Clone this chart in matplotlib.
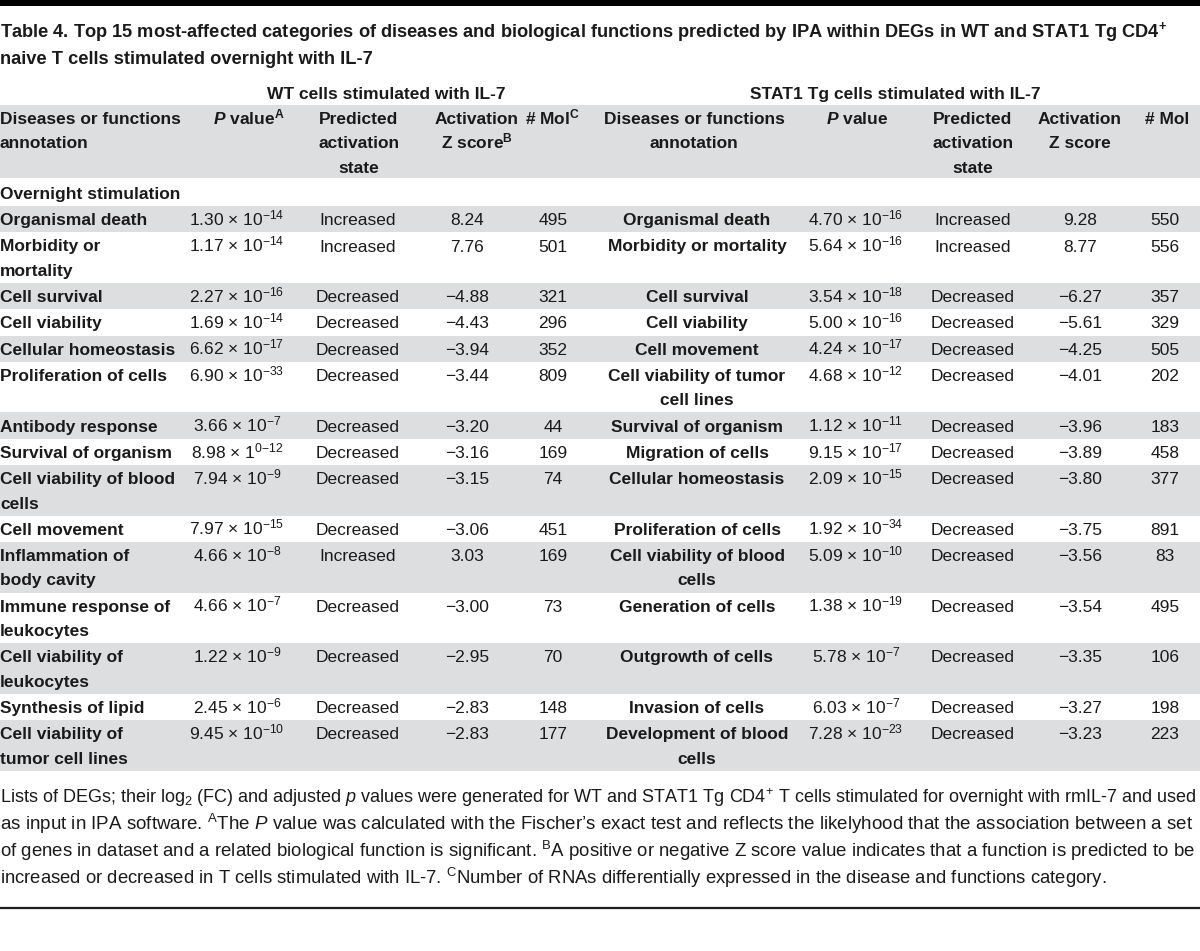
import matplotlib
matplotlib.use('Agg')
import matplotlib.pyplot as plt
from matplotlib.patches import Rectangle

plt.rcParams['font.family'] = 'Liberation Sans'
plt.rcParams['mathtext.fontset'] = 'custom'
plt.rcParams['mathtext.rm'] = 'Liberation Sans'
plt.rcParams['mathtext.it'] = 'Liberation Sans:italic'
plt.rcParams['mathtext.bf'] = 'Liberation Sans:bold'
plt.rcParams['mathtext.bfit'] = 'Liberation Sans:italic:bold'

# WT cells stimulated with IL-7
wt_names = ['Organismal death', 'Morbidity or\nmortality', 'Cell survival',
            'Cell viability', 'Cellular homeostasis', 'Proliferation of cells',
            'Antibody response', 'Survival of organism',
            'Cell viability of blood\ncells', 'Cell movement',
            'Inflammation of\nbody cavity', 'Immune response of\nleukocytes',
            'Cell viability of\nleukocytes', 'Synthesis of lipid',
            'Cell viability of\ntumor cell lines']
wt_p = ['1.30', '1.17', '2.27', '1.69', '6.62', '6.90', '3.66', '8.98',
        '7.94', '7.97', '4.66', '4.66', '1.22', '2.45', '9.45']
wt_base = ['10', '10', '10', '10', '10', '10', '10', '1',
           '10', '10', '10', '10', '10', '10', '10']
wt_exp = ['-14', '-14', '-16', '-14', '-17', '-33', '-7', '0{-}12',
          '-9', '-15', '-8', '-7', '-9', '-6', '-10']
wt_state = ['Increased', 'Increased', 'Decreased', 'Decreased', 'Decreased',
            'Decreased', 'Decreased', 'Decreased', 'Decreased', 'Decreased',
            'Increased', 'Decreased', 'Decreased', 'Decreased', 'Decreased']
wt_z = [8.24, 7.76, -4.88, -4.43, -3.94, -3.44, -3.20, -3.16, -3.15, -3.06,
        3.03, -3.00, -2.95, -2.83, -2.83]
wt_mol = [495, 501, 321, 296, 352, 809, 44, 169, 74, 451, 169, 73, 70, 148, 177]

# STAT1 Tg cells stimulated with IL-7
tg_names = ['Organismal death', 'Morbidity or mortality', 'Cell survival',
            'Cell viability', 'Cell movement', 'Cell viability of tumor\ncell lines',
            'Survival of organism', 'Migration of cells', 'Cellular homeostasis',
            'Proliferation of cells', 'Cell viability of blood\ncells',
            'Generation of cells', 'Outgrowth of cells', 'Invasion of cells',
            'Development of blood\ncells']
tg_p = ['4.70', '5.64', '3.54', '5.00', '4.24', '4.68', '1.12', '9.15',
        '2.09', '1.92', '5.09', '1.38', '5.78', '6.03', '7.28']
tg_exp = ['-16', '-16', '-18', '-16', '-17', '-12', '-11', '-17',
          '-15', '-34', '-10', '-19', '-7', '-7', '-23']
tg_state = ['Increased', 'Increased'] + ['Decreased'] * 13
tg_z = [9.28, 8.77, -6.27, -5.61, -4.25, -4.01, -3.96, -3.89, -3.80, -3.75,
        -3.56, -3.54, -3.35, -3.27, -3.23]
tg_mol = [550, 556, 357, 329, 505, 202, 183, 458, 377, 891, 83, 495, 106, 198, 223]

title_lines = [
    'Table 4. Top 15 most-affected categories of diseases and biological functions '
    'predicted by IPA within DEGs in WT and STAT1 Tg CD4$^{\\mathregular{+}}$',
    'naive T cells stimulated overnight with IL-7',
]
group_labels = ['WT cells stimulated with IL-7', 'STAT1 Tg cells stimulated with IL-7']
note_lines = [
    'Lists of DEGs; their log$_{\\mathregular{2}}$ (FC) and adjusted $\\mathit{p}$ values were '
    'generated for WT and STAT1 Tg CD4$^{\\mathregular{+}}$ T cells stimulated for overnight '
    'with rmIL-7 and used',
    'as input in IPA software. $^{\\mathregular{A}}$The $\\mathit{P}$ value was calculated with the '
    'Fischer\u2019s exact test and reflects the likelyhood that the association between a set',
    'of genes in dataset and a related biological function is significant. '
    '$^{\\mathregular{B}}$A positive or negative Z score value indicates that a function is '
    'predicted to be',
    'increased or decreased in T cells stimulated with IL-7. $^{\\mathregular{C}}$Number of RNAs '
    'differentially expressed in the disease and functions category.',
]

W, H = 1200, 951
INK = '#1a1a1a'
GRAY = '#dddee0'
SIZE = 12.5
LINE = 24.3


def pval(m, base, e):
    """Mantissa x base^exponent as mathtext."""
    return m + ' \u00d7 ' + base + '$^{\\mathregular{' + e + '}}$'


def zfmt(z):
    return '{:.2f}'.format(z).replace('-', '\u2212')


def put(ax, x, y, s, ha='center', bold=False, size=SIZE):
    """Draw (possibly multi-line) text, first baseline at y."""
    for k, line in enumerate(s.split('\n')):
        ax.text(x, y + k * LINE, line, ha=ha, va='baseline', fontsize=size,
                fontweight='bold' if bold else 'normal', color=INK)


def fit(txt, target, renderer):
    """Scale font size so the text is target pixels wide."""
    for _ in range(3):
        w = txt.get_window_extent(renderer).width
        txt.set_fontsize(txt.get_fontsize() * target / w)


fig = plt.figure(figsize=(W / 100, H / 100), dpi=100)
ax = fig.add_axes([0, 0, 1, 1])
ax.set_xlim(0, W)
ax.set_ylim(H, 0)
ax.axis('off')

# top bar and bottom rule
ax.add_patch(Rectangle((0, 0), W, 5.5, color='black', lw=0))
ax.plot([0, W], [908, 908], color='#1e1e1e', lw=1.6)

# title
renderer = fig.canvas.get_renderer()
t1 = ax.text(0, 37, title_lines[0], ha='left', va='baseline', fontsize=13,
             fontweight='bold', color=INK)
fit(t1, 1170, renderer)
ax.text(0, 64, title_lines[1], ha='left', va='baseline', fontsize=t1.get_fontsize(),
        fontweight='bold', color=INK)

# group labels
put(ax, 386, 99, group_labels[0], bold=True)
put(ax, 895, 99, group_labels[1], bold=True)

# header band
ax.add_patch(Rectangle((0, 105), W, 73, color=GRAY, lw=0))
hy = 124
put(ax, 0, hy, 'Diseases or functions\nannotation', ha='left', bold=True)
put(ax, 249, hy, '$\\mathbfit{P}$ value$^{\\mathregular{A}}$', bold=True)
put(ax, 359, hy, 'Predicted\nactivation\nstate', bold=True)
put(ax, 477, hy, 'Activation\nZ score$^{\\mathregular{B}}$', bold=True)
put(ax, 552, hy, '# Mol$^{\\mathregular{C}}$', bold=True)
put(ax, 694, hy, 'Diseases or functions\nannotation', bold=True)
put(ax, 857, hy, '$\\mathbfit{P}$ value', bold=True)
put(ax, 973, hy, 'Predicted\nactivation\nstate', bold=True)
put(ax, 1080, hy, 'Activation\nZ score', bold=True)
put(ax, 1167, hy, '# Mol', bold=True)

put(ax, 0, 199, 'Overnight stimulation', ha='left', bold=True)

# body rows
top = 206.0
for i in range(len(wt_names)):
    n = max(wt_names[i].count('\n'), tg_names[i].count('\n')) + 1
    h = 26.3 if n == 1 else 50.6
    if i % 2 == 0:
        ax.add_patch(Rectangle((0, top), W, h, color=GRAY, lw=0))
    y = top + 19.2
    put(ax, 0, y, wt_names[i], ha='left', bold=True)
    put(ax, 237, y, pval(wt_p[i], wt_base[i], wt_exp[i]))
    put(ax, 358, y, wt_state[i])
    put(ax, 467, y, zfmt(wt_z[i]))
    put(ax, 553, y, str(wt_mol[i]))
    put(ax, 697, y, tg_names[i], bold=True)
    put(ax, 856, y, pval(tg_p[i], '10', tg_exp[i]))
    put(ax, 973, y, tg_state[i])
    put(ax, 1080, y, zfmt(tg_z[i]))
    put(ax, 1165, y, str(tg_mol[i]))
    top += h

# footnote
sizes = []
for k, line in enumerate(note_lines):
    t = ax.text(0, 803 + 27 * k, line, ha='left', va='baseline', fontsize=11.5,
                color=INK)
    if k < 3:
        fit(t, 1195, renderer)
        sizes.append(t.get_fontsize())
    else:
        t.set_fontsize(sum(sizes) / len(sizes))

fig.savefig('out.png', dpi=100, facecolor='white')
